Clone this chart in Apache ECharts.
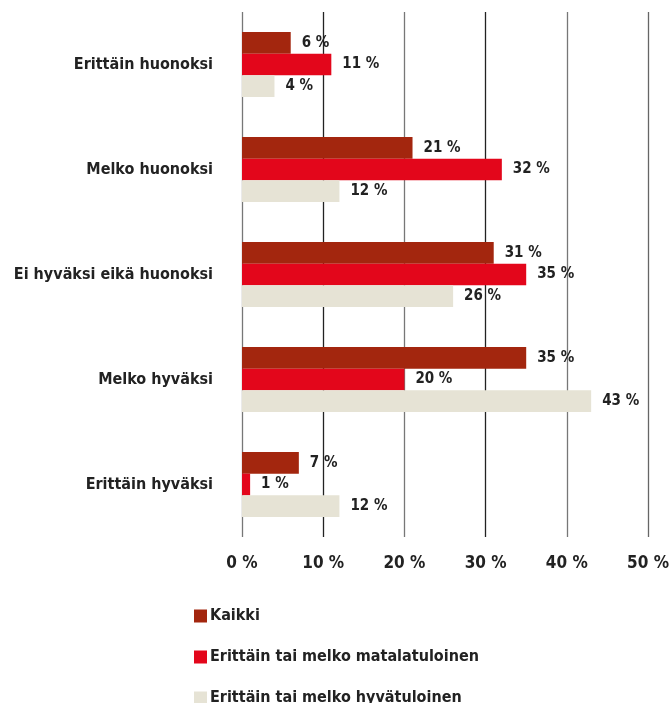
<!DOCTYPE html>
<html><head><meta charset="utf-8">
<script src="https://cdn.jsdelivr.net/npm/echarts@6/dist/echarts.min.js"></script>
<style>html,body{margin:0;padding:0;background:#fff}#c{width:672px;height:703px}</style>
</head><body><div id="c"></div>
<script>
const categories = ['Erittäin huonoksi','Melko huonoksi','Ei hyväksi eikä huonoksi','Melko hyväksi','Erittäin hyväksi'];
const seriesNames = ['Kaikki','Erittäin tai melko matalatuloinen','Erittäin tai melko hyvätuloinen'];
const kaikki = [6, 21, 31, 35, 7];
const matala = [11, 32, 35, 20, 1];
const hyva = [4, 12, 26, 43, 12];
const colors = ['#A3260E','#E3061B','#E6E3D5'];
const FONT = '"DejaVu Sans Condensed","DejaVu Sans",sans-serif';
const chart = echarts.init(document.getElementById('c'));
const mk = (name, data, color) => ({
  name, type: 'bar', data, barWidth: 21.7, barGap: '0%',
  itemStyle: {color},
  label: {show: true, position: 'right', distance: 11, formatter: '{c} %',
    fontFamily: FONT, fontWeight: 'bold', fontSize: 15, color: '#222'}
});
chart.setOption({
  animation: false,
  textStyle: {fontFamily: FONT},
  grid: {left: 242, right: 24, top: 12, bottom: 166, containLabel: false, outerBoundsMode: 'none'},
  xAxis: {type: 'value', min: 0, max: 50, interval: 10,
    axisLine: {show: false}, axisTick: {show: false},
    axisLabel: {formatter: '{value} %', margin: 18, fontFamily: FONT, fontWeight: 'bold', fontSize: 17, color: '#222'},
    splitLine: {show: true, lineStyle: {color: ['#777','#222','#777','#222','#777','#666'], width: 1.3}}},
  yAxis: {type: 'category', data: categories, inverse: true,
    axisLine: {show: false}, axisTick: {show: false},
    axisLabel: {margin: 29, fontFamily: FONT, fontWeight: 'bold', fontSize: 16, color: '#222'}},
  legend: {orient: 'vertical', left: 189, top: 603, height: 200, itemWidth: 13, itemHeight: 13, itemGap: 25,
    icon: 'rect', data: seriesNames,
    textStyle: {fontFamily: FONT, fontWeight: 'bold', fontSize: 16, color: '#222', padding: [0,0,0,-2]}},
  series: [mk(seriesNames[0], kaikki, colors[0]), mk(seriesNames[1], matala, colors[1]), mk(seriesNames[2], hyva, colors[2])]
});
</script></body></html>
